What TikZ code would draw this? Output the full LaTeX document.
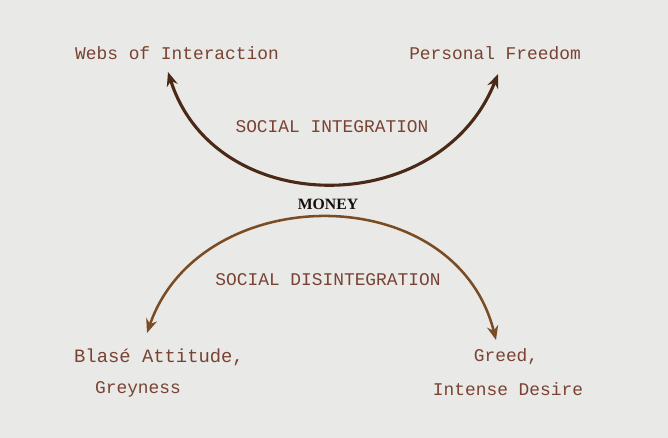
\documentclass[tikz,border=0pt]{standalone}
\usepackage{fontspec}
\setmonofont{Liberation Mono}
\newfontfamily\moneyfont{Liberation Serif}
\usepackage{xcolor}
\usetikzlibrary{arrows.meta}

\definecolor{paper}{RGB}{233,233,231}
\definecolor{inkbrown}{RGB}{122,66,50}
\definecolor{darkarc}{RGB}{74,42,22}
\definecolor{lightarc}{RGB}{122,76,36}

\begin{document}
\begin{tikzpicture}[x=0.025cm, y=-0.025cm,
    label/.style={inner sep=0pt, text=inkbrown, font=\ttfamily\fontsize{12.7}{15}\selectfont},
    arc/.style={line width=2.2pt, {Stealth[length=10pt, width=8pt]}-{Stealth[length=10pt, width=8pt]}}]
  % Paper background
  \fill[paper] (0,0) rectangle (668,438);
  \useasboundingbox (0,0) rectangle (668,438);

  % Outcomes of integration
  \node[label] (webs) at (177,53) {Webs of Interaction};
  \node[label] (freedom) at (495,53) {Personal Freedom};
  \node[label] (integ) at (332,127) {SOCIAL INTEGRATION};

  % Centre
  \node[inner sep=0pt, text=black!80!inkbrown, font=\moneyfont\bfseries\fontsize{11.2}{13}\selectfont] (money) at (328,204) {MONEY};

  % Outcomes of disintegration
  \node[label, font=\ttfamily\fontsize{13.4}{15}\selectfont] (blase) at (159,357) {Blas\'e Attitude,};
  \node[label] (disinteg) at (328,280) {SOCIAL DISINTEGRATION};
  \node[label] (grey) at (138,389) {Greyness};
  \node[label] (greed) at (506,357) {Greed,};
  \node[label] (desire) at (508,389) {Intense Desire};

  % Arrow tips
  \coordinate (websTip) at (168,72);
  \coordinate (freedomTip) at (498,74);
  \coordinate (blaseTip) at (147,333);
  \coordinate (greedTip) at (496,340);

  % Upper arc (integration)
  \draw[arc, darkarc] (websTip) .. controls (215,220) and (440,220) .. (freedomTip);

  % Lower arc (disintegration)
  \draw[arc, lightarc, line width=1.8pt] (blaseTip) .. controls (200,180) and (455,177) .. (greedTip);

\end{tikzpicture}
\end{document}
